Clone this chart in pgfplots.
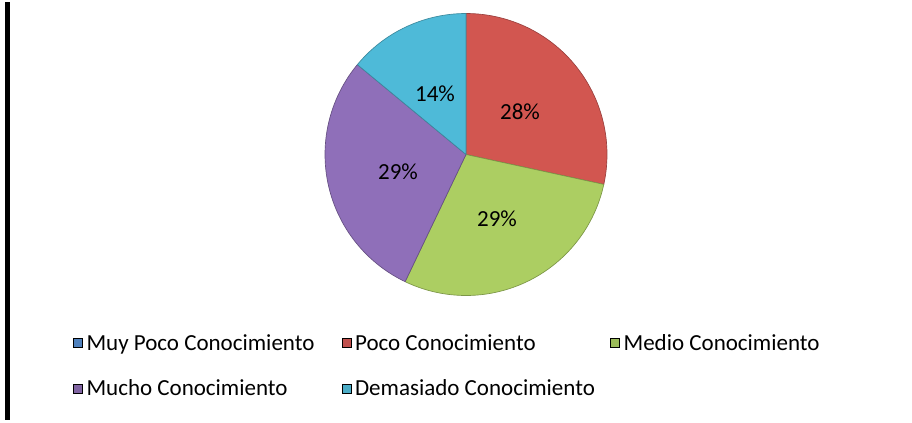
\documentclass[border=0pt]{standalone}
\usepackage{pgfplots}
\pgfplotsset{compat=1.18}
\usepackage{fontspec}
\setmainfont{Carlito}
\definecolor{cBlue}{RGB}{79,129,189}
\definecolor{cRed}{RGB}{192,80,77}
\definecolor{cGreen}{RGB}{155,187,89}
\definecolor{cPurple}{RGB}{128,100,162}
\definecolor{cCyan}{RGB}{75,172,198}
\definecolor{sRed}{RGB}{210,86,80}
\definecolor{sGreen}{RGB}{172,206,98}
\definecolor{sPurple}{RGB}{143,111,185}
\definecolor{sCyan}{RGB}{78,186,216}
% data (percent)
\def\vA{0}    % Muy Poco Conocimiento
\def\vB{28.4} % Poco Conocimiento
\def\vC{28.7} % Medio Conocimiento
\def\vD{28.9} % Mucho Conocimiento
\def\vE{14.0} % Demasiado Conocimiento
\pgfmathsetmacro\aA{90-3.6*\vA}
\pgfmathsetmacro\aB{\aA-3.6*\vB}
\pgfmathsetmacro\aC{\aB-3.6*\vC}
\pgfmathsetmacro\aD{\aC-3.6*\vD}
\pgfmathsetmacro\aE{\aD-3.6*\vE}
\begin{document}
\begin{tikzpicture}
\begin{axis}[
  scale only axis, width=684pt, height=312.75pt,
  xmin=0, xmax=912, ymin=0, ymax=417,
  hide axis, clip=false,
  legend columns=3,
  legend cell align=left,
  legend style={draw=none, fill=none, at={(axis cs:73,53.5)}, anchor=west,
    font=\fontsize{17.25}{20}\selectfont, inner sep=0pt, outer sep=0pt,
    column sep=3pt, row sep=20.75pt, nodes={inner sep=0pt}},
  legend image code/.code={\fill[#1] (0pt,-3.375pt) rectangle (6.75pt,3.375pt);},
]
\path (axis cs:0,0) rectangle (axis cs:912,417);
\draw[black, line width=3.75pt] (axis cs:7.5,0) -- (axis cs:7.5,417);
\addplot[forget plot, fill=sRed, draw=cRed!80!black, line width=0.5pt, domain=\aB:\aA, samples=80, variable=\t]
  ({466+141*cos(\t)},{265+141*sin(\t)}) -- (axis cs:466,265) -- cycle;
\addplot[forget plot, fill=sGreen, draw=cGreen!80!black, line width=0.5pt, domain=\aC:\aB, samples=80, variable=\t]
  ({466+141*cos(\t)},{265+141*sin(\t)}) -- (axis cs:466,265) -- cycle;
\addplot[forget plot, fill=sPurple, draw=cPurple!80!black, line width=0.5pt, domain=\aD:\aC, samples=80, variable=\t]
  ({466+141*cos(\t)},{265+141*sin(\t)}) -- (axis cs:466,265) -- cycle;
\addplot[forget plot, fill=sCyan, draw=cCyan!80!black, line width=0.5pt, domain=\aE:\aD, samples=50, variable=\t]
  ({466+141*cos(\t)},{265+141*sin(\t)}) -- (axis cs:466,265) -- cycle;
\node[font=\fontsize{17.25}{20}\selectfont] at (axis cs:520,308) {28\%};
\node[font=\fontsize{17.25}{20}\selectfont] at (axis cs:497,201) {29\%};
\node[font=\fontsize{17.25}{20}\selectfont] at (axis cs:398,248) {29\%};
\node[font=\fontsize{17.25}{20}\selectfont] at (axis cs:435,326) {14\%};
\addlegendimage{fill=cBlue}
\addlegendentry{\makebox[188.25pt][l]{Muy Poco Conocimiento}}
\addlegendimage{fill=cRed}
\addlegendentry{\makebox[188.25pt][l]{Poco Conocimiento}}
\addlegendimage{fill=cGreen}
\addlegendentry{Medio Conocimiento}
\addlegendimage{fill=cPurple}
\addlegendentry{\makebox[188.25pt][l]{Mucho Conocimiento}}
\addlegendimage{fill=cCyan}
\addlegendentry{\makebox[188.25pt][l]{Demasiado Conocimiento}}
\end{axis}
\end{tikzpicture}
\end{document}
